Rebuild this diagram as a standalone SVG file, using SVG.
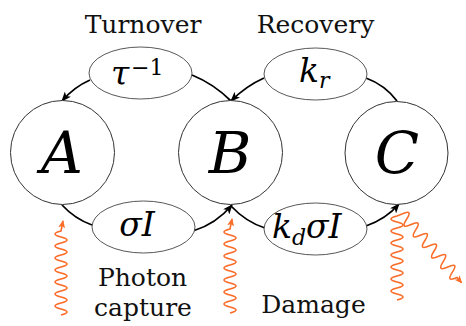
<svg xmlns="http://www.w3.org/2000/svg" width="466" height="326" viewBox="0 0 466 326">
<style>
.node{fill:#fff;stroke:#333;stroke-width:1}
.rate{fill:#fff;stroke:#444;stroke-width:0.9}
text{font-family:"DejaVu Serif",serif;fill:#000}
.big{font-style:italic;font-size:58px;text-anchor:middle}
.math{font-style:italic;font-size:33px}
.sub{font-size:22px}
.lbl{font-size:25px;text-anchor:middle;fill:#111}
.edge{fill:none;stroke:#000;stroke-width:1.8}
.wave{fill:none;stroke:#fa6e2a;stroke-width:1.6}
</style>
<defs>
<marker id="ah" markerUnits="userSpaceOnUse" markerWidth="10" markerHeight="8" refX="9" refY="4" orient="auto"><path d="M0,0 L10,4 L0,8 L2.5,4 z" fill="#000"/></marker>
<marker id="oh" markerUnits="userSpaceOnUse" markerWidth="8" markerHeight="7" refX="7" refY="3.5" orient="auto"><path d="M0,0 L8,3.5 L0,7 L2,3.5 z" fill="#fa6e2a"/></marker>
</defs>
<g id="connectors">
<path class="edge" d="M231,101 Q214,84 192,75"/>
<path class="edge" d="M90,80 Q74,87 62,101" marker-end="url(#ah)"/>
<path class="edge" d="M397,101 Q385,85 366,78"/>
<path class="edge" d="M264,78 Q246,86 231,101" marker-end="url(#ah)"/>
<path class="edge" d="M62,205 Q75,219 92,225"/>
<path class="edge" d="M193,231 Q216,224 232,205" marker-end="url(#ah)"/>
<path class="edge" d="M231,206 Q246,222 265,228"/>
<path class="edge" d="M366,226 Q386,219 399,204" marker-end="url(#ah)"/>
</g>
<g id="photons">
<path class="wave" d="M61,315 q12,-3 0,-6 t0,-6 t0,-6 t0,-6 t0,-6 t0,-6 t0,-6 t0,-6 t0,-6 t0,-6 t0,-6 t0,-6 t0,-6 t0,-6 l2,-10" marker-end="url(#oh)"/>
<path class="wave" d="M230,313 q12,-3 0,-6 t0,-6 t0,-6 t0,-6 t0,-6 t0,-6 t0,-6 t0,-6 t0,-6 t0,-6 t0,-6 t0,-6 t0,-6 t0,-6 l2,-10" marker-end="url(#oh)"/>
<path class="wave" d="M397,300 q12,-3 0,-6 t0,-6 t0,-6 t0,-6 t0,-6 t0,-6 t0,-6 t0,-6 t0,-6 t0,-6 t0,-6 t0,-6 t0,-6 t0,-6 l5,-2"/>
<path class="wave" d="M402,214 q11.36,-5.21 4.58,5.29 t4.58,5.29 t4.58,5.29 t4.58,5.29 t4.58,5.29 t4.58,5.29 t4.58,5.29 t4.58,5.29 t4.58,5.29 t4.58,5.29 t4.58,5.29 t4.58,5.29 l4.6,5.3" marker-end="url(#oh)"/>
</g>
<g id="nodeA"><circle class="node" cx="62.5" cy="152.5" r="52"/><text class="big" x="62" y="173">A</text></g>
<g id="nodeB"><circle class="node" cx="230.5" cy="152.5" r="52"/><text class="big" x="230" y="173">B</text></g>
<g id="nodeC"><circle class="node" cx="396.5" cy="153" r="51.5"/><text class="big" x="397" y="173">C</text></g>
<g id="turnover"><ellipse class="rate" cx="140.5" cy="73" rx="51.5" ry="26"/><text class="math" x="111" y="85">τ</text><text class="sub" x="131" y="75">−1</text></g>
<g id="recovery"><ellipse class="rate" cx="315.5" cy="74" rx="51.5" ry="26"/><text class="math" x="299" y="82">k<tspan class="sub" dy="6">r</tspan></text></g>
<g id="capture"><ellipse class="rate" cx="143.5" cy="227" rx="51.5" ry="26"/><text class="math" x="137" y="236" text-anchor="middle">σI</text></g>
<g id="damage"><ellipse class="rate" cx="315.5" cy="229" rx="51.5" ry="26"/><text class="math" x="272" y="238">k<tspan class="sub" dy="7">d</tspan><tspan dy="-7">σI</tspan></text></g>
<g id="labels">
<text class="lbl" x="143" y="33">Turnover</text>
<text class="lbl" x="315.5" y="33">Recovery</text>
<text class="lbl" x="142.5" y="286">Photon</text>
<text class="lbl" x="143" y="316">capture</text>
<text class="lbl" x="313.5" y="313">Damage</text>
</g>
</svg>
